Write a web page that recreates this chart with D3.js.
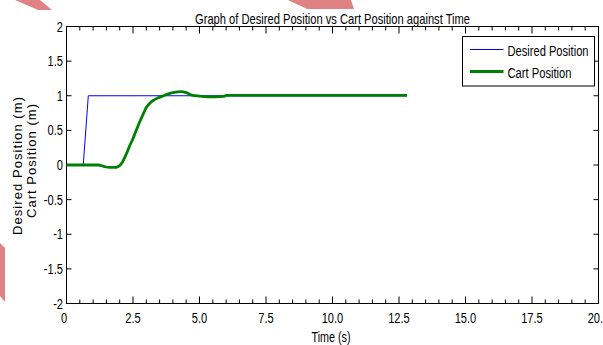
<!DOCTYPE html>
<html>
<head>
<meta charset="utf-8">
<script src="https://cdn.jsdelivr.net/npm/d3@7"></script>
<style>
  body { margin: 0; background: #fff; }
  svg text { font-family: "Liberation Sans Narrow", "Arial Narrow", "Liberation Sans", sans-serif; fill: #000; }
</style>
</head>
<body>
<div id="chart"></div>
<script>
// data
var desiredT = [0, 0.63, 0.82, 12.8];
var desiredV = [0, 0, 1, 1];

var cartT = [0, 0.6, 1.2, 1.4, 1.6, 1.8, 1.95, 2.1, 2.25, 2.4, 2.5, 2.6, 2.75, 2.9, 3.0, 3.15, 3.3, 3.45, 3.64,
             3.85, 4.05, 4.3, 4.5, 4.75, 5.0, 5.3, 5.6, 5.9, 6.0, 8.0, 10.0, 12.8];
var cartV = [0, 0, 0, -0.02, -0.035, -0.035, -0.02, 0.04, 0.16, 0.3, 0.38, 0.48, 0.62, 0.75, 0.83, 0.9, 0.94, 0.97, 1.0,
             1.03, 1.05, 1.06, 1.045, 1.005, 0.995, 0.985, 0.985, 0.99, 1.005, 1.005, 1.005, 1.005];

var xTicks = [0, 2.5, 5, 7.5, 10, 12.5, 15, 17.5, 20];
var xTickLabels = ["0", "2.5", "5.0", "7.5", "10.0", "12.5", "15.0", "17.5", "20.0"];
var yTicks = [2, 1.5, 1, 0.5, 0, -0.5, -1, -1.5, -2];
var yTickLabels = ["2", "1.5", "1", "0.5", "0", "-0.5", "-1", "-1.5", "-2"];
var seriesNames = ["Desired Position", "Cart Position"];

var W = 603, H = 345;
var plot = {left: 66.5, right: 598.5, top: 26.5, bottom: 303.5};

var svg = d3.select("#chart").append("svg")
    .attr("width", W).attr("height", H);

// faint watermark bits in the corners of the scan
var pink = "#e08283";
[[[15,0],[40,0],[52,10],[38,10]],
 [[288,0],[351,0],[354,9],[307,9]],
 [[0,243],[5,248],[5,302],[0,296]]].forEach(function(p) {
    svg.append("polygon").attr("points", p.join(" ")).attr("fill", pink);
});

var x = d3.scaleLinear().domain([0, 20]).range([plot.left, plot.right]);
var y = d3.scaleLinear().domain([-2, 2]).range([plot.bottom, plot.top]);

// 狭いフォントが無いので横方向に縮める
function narrow(sel, k) {
    sel.each(function() {
        var w = this.getComputedTextLength();
        d3.select(this).attr("textLength", w * k).attr("lengthAdjust", "spacingAndGlyphs");
    });
}

// X軸 (下と上、内向きの目盛り)
var minor = d3.range(0, 20.01, 0.5).filter(function(d) { return d % 2.5 !== 0; });
function xAxisAt(yPos, dir) {
    var g = svg.append("g");
    g.selectAll("line.major").data(xTicks).enter().append("line")
        .attr("x1", function(d) { return x(d); }).attr("x2", function(d) { return x(d); })
        .attr("y1", yPos).attr("y2", yPos + dir * 7)
        .attr("stroke", "#000");
    g.selectAll("line.minor").data(minor).enter().append("line")
        .attr("x1", function(d) { return x(d); }).attr("x2", function(d) { return x(d); })
        .attr("y1", yPos).attr("y2", yPos + dir * 4)
        .attr("stroke", "#000");
}
xAxisAt(plot.bottom, -1);
xAxisAt(plot.top, 1);

// Y軸
function yAxisAt(xPos, dir) {
    svg.append("g").selectAll("line").data(yTicks).enter().append("line")
        .attr("x1", xPos).attr("x2", xPos + dir * 5)
        .attr("y1", function(d) { return y(d); }).attr("y2", function(d) { return y(d); })
        .attr("stroke", "#000");
}
yAxisAt(plot.left, 1);
yAxisAt(plot.right, -1);

// box
svg.append("rect")
    .attr("x", plot.left).attr("y", plot.top)
    .attr("width", plot.right - plot.left).attr("height", plot.bottom - plot.top)
    .attr("fill", "none").attr("stroke", "#000");

// tick labels
svg.append("g").selectAll("text").data(xTicks).enter().append("text")
    .attr("x", function(d) { return x(d) - (d === 0 ? 2.5 : 0); })
    .attr("y", plot.bottom + 19.5)
    .attr("text-anchor", "middle")
    .style("font-size", "15px")
    .text(function(d, i) { return xTickLabels[i]; })
    .call(narrow, 0.74);

svg.append("g").selectAll("text").data(yTicks).enter().append("text")
    .attr("x", plot.left - 3.5)
    .attr("y", function(d) { return y(d) + 5; })
    .attr("text-anchor", "end")
    .style("font-size", "15px")
    .text(function(d, i) { return yTickLabels[i]; })
    .call(narrow, 0.74);

// lines
var line = d3.line()
    .x(function(d) { return x(d[0]); })
    .y(function(d) { return y(d[1]); });

svg.append("path")
    .datum(desiredT.map(function(t, i) { return [t, desiredV[i]]; }))
    .attr("d", line)
    .attr("fill", "none").attr("stroke", "#0000ff").attr("stroke-width", 1);

svg.append("path")
    .datum(cartT.map(function(t, i) { return [t, cartV[i]]; }))
    .attr("d", line.curve(d3.curveMonotoneX))
    .attr("fill", "none").attr("stroke", "#008000").attr("stroke-width", 2.8)
    .attr("stroke-linejoin", "round");

// title and axis labels
svg.append("text")
    .attr("x", (plot.left + plot.right) / 2).attr("y", 24)
    .attr("text-anchor", "middle")
    .attr("textLength", 275).attr("lengthAdjust", "spacingAndGlyphs")
    .style("font-size", "15px")
    .text("Graph of Desired Position vs Cart Position against Time");

svg.append("text")
    .attr("x", 331).attr("y", 341.5)
    .attr("text-anchor", "middle")
    .attr("textLength", 39).attr("lengthAdjust", "spacingAndGlyphs")
    .style("font-size", "14px")
    .text("Time (s)");

var yl = svg.append("g").attr("transform", "rotate(-90)");
yl.append("text")
    .attr("x", -166).attr("y", 21.5)
    .attr("text-anchor", "middle")
    .attr("textLength", 138).attr("lengthAdjust", "spacing")
    .style("font-family", "'Liberation Sans', Arial, sans-serif")
    .style("font-size", "13px")
    .text("Desired Position (m)");
yl.append("text")
    .attr("x", -161).attr("y", 36)
    .attr("text-anchor", "middle")
    .attr("textLength", 114).attr("lengthAdjust", "spacing")
    .style("font-family", "'Liberation Sans', Arial, sans-serif")
    .style("font-size", "13px")
    .text("Cart Position (m)");

// legend
var lg = svg.append("g");
lg.append("rect")
    .attr("x", 462.5).attr("y", 36.5).attr("width", 132).attr("height", 49.5)
    .attr("fill", "#fff").attr("stroke", "#000");
var legendColors = ["#0000ff", "#008000"], legendWidths = [1, 2.8], legendY = [49.5, 71.5], legendLen = [81, 64];
seriesNames.forEach(function(name, i) {
    lg.append("line")
        .attr("x1", 470).attr("x2", 503.5)
        .attr("y1", legendY[i]).attr("y2", legendY[i])
        .attr("stroke", legendColors[i]).attr("stroke-width", legendWidths[i]);
    lg.append("text")
        .attr("x", 507.5).attr("y", legendY[i] + 6)
        .attr("textLength", legendLen[i]).attr("lengthAdjust", "spacingAndGlyphs")
        .style("font-size", "14px")
        .text(name);
});
</script>
</body>
</html>
